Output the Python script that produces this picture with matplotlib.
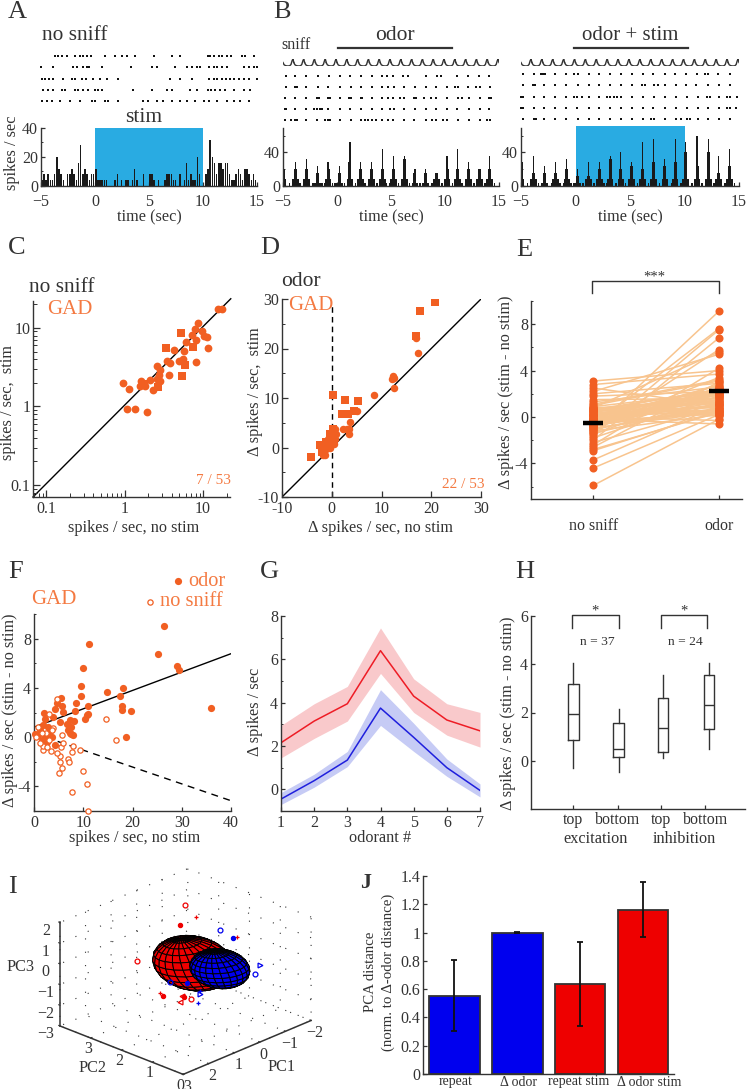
import numpy as np
import matplotlib
matplotlib.use("Agg")
import matplotlib.pyplot as plt
from mpl_toolkits.mplot3d import Axes3D  # noqa
from matplotlib.ticker import FixedLocator, NullFormatter, NullLocator

plt.rcParams['font.family'] = ['Liberation Serif', 'DejaVu Serif']
plt.rcParams['mathtext.fontset'] = 'stix'
W, H = 747, 1089
DARK = '#333333'
ORANGE = '#F15F22'
ORTXT = '#F47A42'
LIGHT = '#F8C48E'
SKY = '#29ABE2'
plt.rcParams['text.color'] = DARK
plt.rcParams['axes.edgecolor'] = DARK
plt.rcParams['xtick.color'] = DARK
plt.rcParams['ytick.color'] = DARK

# ---------- Panel A data ----------
a_bin_left = [-5 + 0.2 * i for i in range(100)]
a_counts = [4,8,4,8,4,4,8,20,12,8,4,0,8,8,12,8,4,16,28,8,12,8,4,8,8,
            12,4,4,4,4,4,0,0,0,4,8,0,4,0,4,4,0,4,12,4,0,0,8,0,0,8,8,4,0,4,0,0,4,8,8,8,4,4,0,8,0,4,16,4,8,4,4,20,8,0,
            0,8,12,32,20,16,8,16,16,12,16,16,8,4,4,8,12,8,4,12,12,8,4,8,4]
a_raster = [
 [-3.7,-3.39,-3.08,-2.62,-1.85,-1.38,-1.07,-.7,-.39,.93,1.86,2.48,2.94,3.72,5.42,7.12,7.89,10.43,10.67,10.98,11.45,11.75,12.22,12.59,13.6,13.92,14.7],
 [-5,-3.86,-2,-1.63,-1.07,-.76,-.52,.63,3.3,5.26,5.73,7.43,8.5,8.97,9.44,9.75,10.52,10.98,11.29,11.75,12.22,13.76,14.23,14.7,15],
 [-4.94,-4.63,-4.26,-3.86,-2.93,-2.16,-1.85,-1.23,-.83,-.15,.47,1.15,2.17,6.96,7.89,8.97,10.52,10.98,11.29,11.75,12.16,12.53,12.84,13.3,13.76,14.23,15],
 [-4.78,-4.32,-3.86,-3.08,-2.77,-1.85,-1.54,-1.07,-.61,0,.32,.63,3.56,5.26,6.65,7.12,8.82,9.44,10.43,10.73,11.13,11.6,12.06,12.84,13.76,14.38],
 [-4.94,-4.47,-4,-3.24,-2.31,-1.38,-.3,0,.93,1.24,2.17,4.49,4.95,5.73,6.34,7.12,7.89,8.5,9.28,10.05,10.52,11.29,12.22,12.84,13.45,14.23],
]
# ---------- Panel B data ----------
b1_peak_t = [-5,-3.83,-2.81,-1.82,-.83,.25,1.2,2.19,3.18,4.2,5.25,6.23,7.22,8.2,9.2,10.19,11.17,12.19,13.2,14.14]
b1_peak_h = [69,28,32,24,28,24,52,28,28,44,36,36,20,20,16,36,44,28,20,36]
b1_shoulder = [20,20,20,16,20,16,28,20,20,20,20,32,16,16,16,20,20,20,20,20]
b1_base = [8,8,8,4,8,4,8,8,8,8,8,8,4,4,8,8,8,8,8,8]
b2_peak_t = [-5,-3.87,-2.83,-1.82,-.79,.19,1.2,2.18,3.18,4.16,5.14,6.15,7.18,8.19,9.14,10.11,11.15,12.19,13.1,14.11]
b2_peak_h = [70,36,24,28,32,20,28,28,36,40,28,52,56,32,56,52,60,56,36,44]
b2_shoulder = [28,16,16,16,20,12,12,20,32,20,24,20,28,24,28,40,24,40,16,24]
b2_base = [8,8,4,8,8,4,8,8,8,8,8,8,8,8,8,8,8,8,8,8]
b_noise_t = [-4.4,-3.4,-2.2,-1.4,-1.1,-.4,-.2,.7,1.7,2.6,2.9,3.7,4.6,4.9,5.7,6.7,7.7,8.8,9.7,10.7,11.6,12.7,13.7,14.4,14.6]
b1_raster = [
 [-4.75,-3.85,-2.85,-1.75,-.7,.25,1.2,2.2,3.2,4.2,4.6,5.2,6.15,6.55,8.2,9.25,9.65,11.1,12.15,13.15,14.1],
 [-4.75,-3.85,-3.7,-2.85,-1.8,-.8,.25,1.25,2.2,3.2,4.2,4.7,5.25,6.2,7.2,8.25,9.2,10.2,10.9,11.2,12.1,12.9,13.25,14.15],
 [-4.8,-3.85,-2.85,-1.85,-1.7,-.8,-.65,.25,1.1,1.3,2.2,2.35,3.2,4.2,4.7,5.2,5.8,6.2,7.1,7.3,8.1,8.7,9.2,10.2,11.2,11.6,12.2,13.2,14.1,14.25],
 [-4.85,-4.7,-3.85,-2.85,-2.1,-1.85,-1.6,-1.4,-.8,.25,1.2,2.2,3.2,4.2,4.9,5.25,6.2,7.2,8.25,9.2,10.2,11.1,12.2,13.2,14.1],
 [-4.8,-4.3,-3.85,-3.7,-2.85,-1.85,-1.1,-.85,-.65,.25,1.25,2.2,2.6,2.9,3.2,3.6,4.2,4.7,5.2,6.2,7.1,8.2,8.8,9.2,9.8,10.2,11.2,12.2,13.2,13.9,14.2],
]
b2_raster = [
 [-4.8,-3.85,-3.2,-3,-2.8,-1.85,-.85,-.1,.2,1.2,2.2,3.2,4.2,5.15,6.2,7.15,8.2,9.15,10.15,11.15,11.9,12.2,13.1,14.15],
 [-4.8,-3.9,-3.7,-2.85,-1.85,-.85,.2,1.2,2.15,3.2,4.2,5.2,6.1,6.4,7.2,7.6,8.2,9.2,10.1,11.1,12.15,13.15,14.15],
 [-5,-4.8,-3.85,-2.85,-1.85,-.85,-.1,.15,.6,1.2,2.2,2.9,3.2,3.5,3.8,4.2,5.2,6.2,7.2,8.2,9.2,10.2,11.2,12.1,12.3,13.15,13.9,14.2,14.8],
 [-5,-4.8,-3.85,-2.85,-1.85,-.85,.15,1.2,2.15,3.15,4.2,5.2,6.2,7.15,8.2,9.2,10.2,11.2,12.2,13.15,13.9,14.15,14.7],
 [-4.85,-3.85,-3.6,-2.85,-1.85,-.85,.2,1.2,2.2,3.2,4.2,5.2,6.2,6.9,7.2,8.2,9.2,9.7,10.2,10.5,11.2,12.2,13.15,14.15],
]
sniff_onsets = [-5,-4,-3,-2,-1,0,1,2,3,4,5,6,7,8,9,10,11,12,13,14]
sniff_shape_t = [0,.1,.25,.45,.62,.74,.84,.92,1.0]
sniff_shape_v = [.5,.18,.04,0,.03,.22,.75,1,.5]

# ---------- Panel C ----------
c_circ_x = [.95,1.15,1.08,1.34,1.91,1.62,1.58,1.84,2.08,2.30,2.61,2.58,2.72,2.85,2.85,3.65,3.47,3.83,4.26,4.99,5.5,5.78,6.13,7.24,7.98,8.63,9.8,11.1,11.5,8.22,8.22,15.4,17.5,10.4]
c_circ_y = [1.97,1.65,.92,.92,.85,2.08,1.82,1.80,2.17,1.62,3.27,2.26,2.54,2.94,2.13,2.54,3.83,3.57,5.29,3.75,4.02,5.14,6.63,8.22,9.8,11.5,9.07,7.6,5.5,3.68,7.1,17.6,17.6,7.8]
c_sq_x = [5.19,3.34,5.33,5.95,7.47,2.66,1.75]
c_sq_y = [8.7,5.56,2.41,3.4,5.78,1.77,1.95]
# ---------- Panel D ----------
d_sq_x = [20.7,17.8,16.9,.3,2.7,5.2,2,3.2,4.5,-4.1,-2.3,-1.1,.3,-.3,.3,-2,-.7]
d_sq_y = [29.3,27.5,22.5,10.6,9.5,9.4,6.7,6.7,7.3,-2,.6,1.1,3.8,2.8,1.8,-.9,.5]
d_circ_x = [17.3,16.9,12.5,12.3,12.6,12.1,8.4,5,3.7,3.4,3.5,2.3,.7,.9,.7,.5,-.3,-1.3,-1.7,-2.2,-1.1,-.7,0,.3,-.5,-1.8,3]
d_circ_y = [19.1,22.2,12,14.5,14,13.8,10.7,7.4,5.1,2.8,3.8,3.7,3.8,2.8,1.8,.8,-.2,-1.6,-.9,-.2,-.3,1.8,2.5,1.1,.1,-1.6,3.7]
# ---------- Panel E ----------
e_nosniff = [3.1,2.8,2.5,2.2,2.0,1.8,1.5,1.3,1.0,.8,.7,.6,.5,.4,.3,.2,.1,0,-.1,-.2,-.3,-.4,-.5,-.6,-.7,-.8,-.9,-1,-1.1,-1.2,-1.3,-1.5,-1.6,-1.8,-2,-2.2,-2.4,-2.6,-2.8,-3.7,-4.4,-5.9,
             .9,.6,.2,-.2,-.6,-1,-1.4,-.8,-.3,-2.9,1.1,.85,.75,.65,.55,.45,.35,.25,.15,.05,-.05,-.15,-.25,-.35,-.45,-.55,-.65,-.75,-.85,-.95]
e_odor = [4,3.7,1,5.4,2.9,2.2,1.6,2.6,3.1,5.6,1.3,.1,2.4,1.9,.6,1,2.1,-.3,2.7,-.6,1.5,.3,2,.5,7.6,2.3,3.4,9.1,1.2,.2,5.8,2.5,7.5,1.8,6.8,.8,4.2,3,.4,1,.2,-.2,
          2.1,1.4,.9,1.7,2.8,.7,1.1,2.2,1.9,.5,3.2,.4,1.6,2.3,.8,2.0,1.2,.3,2.4,1.5,.6,1.9,1,2.2,.35,1.3,2.5,.75,1.75,.45]
e_means = [-.5, 2.2]
e_cats = ['no sniff', 'odor']
# ---------- Panel F ----------
f_odor_x = [26.4,25.1,11.1,9.9,29.1,29.5,9.5,9.5,18,14.8,17.5,17.8,17.8,19.7,35.9,18.7,5.4,10.9,11,10.3,10.7,8.6,8.3,2.1,2.2,4.3,4.7,5.6,5.9,3.9,5.3,6.6,8.1,7.3,7.6,7,7.6,8,7.3,1.9,2.9,1.2,3.2,2.2,3.6,.9,2.6,4.3,2.9,1.6,.2]
f_odor_y = [9.1,6.8,7.6,5.6,5.8,5.5,4.2,3.35,4,3.7,3.35,2.5,2.2,2.1,2.4,0,3.2,2.55,1.9,1.5,1.8,2.8,2.15,2,1.45,2.3,2.75,2.55,2.05,1.65,1.25,1.1,1.3,1.4,.85,.55,.25,.15,.3,1,.85,.55,.45,.15,0,.15,-.4,-.65,-.1,-.25,.25]
f_ns_x = [14.7,16.6,10.9,7.8,10.7,9.9,5.1,5.6,7,7.2,5.3,5.3,4.6,7.7,9.4,8,5.5,5.9,5.7,1.8,3.4,1.9,1.2,.5,.9,4.7,3.1,3.9,3.1,2.4,1.6,3.6,2.6]
f_ns_y = [1.45,-.27,-6,-4.5,-3.8,-2.8,-2.9,-2.5,-1.8,-2,-2,-1.55,-1.3,-1.25,-1.1,-.7,-.8,-.5,.2,-1.1,-1.15,-.75,-.45,0,.85,3.1,1.9,.75,-.25,.3,.3,.55,-.8]
f_fit_x = [0, 40]
f_fit_odor = [.8, 6.8]
f_fit_ns = [.3, -5.2]
# ---------- Panel G ----------
g_x = [1,2,3,4,5,6,7]
g_red = [2.15,3.15,3.95,6.4,4.3,3.2,2.7]
g_red_hi = [2.95,3.95,4.75,7.45,5.1,3.95,3.55]
g_red_lo = [1.45,2.35,3.15,5.35,3.55,2.5,1.95]
g_blue = [-.45,.4,1.35,3.75,2.4,1.0,-.05]
g_blue_hi = [-.15,.7,1.75,4.6,3.05,1.4,.25]
g_blue_lo = [-.7,.1,1.05,2.95,1.75,.6,-.35]
# ---------- Panel H ----------
h_labels = ['top','bottom','top','bottom']
h_whislo = [-.3,-.45,.1,.5]
h_q1 = [.85,.15,.35,1.3]
h_med = [1.95,.5,1.35,2.3]
h_q3 = [3.2,1.55,2.6,3.55]
h_whishi = [4.05,2.15,3.55,4.05]
# ---------- Panel I ----------
i_red_open = ([-.67,1.81,1.48],[3,2.5,1],[1.5,.38,-.72])
i_red_fill = ([-.48,2,1.75],[3,1.5,1],[.66,-.63,-.49])
i_red_tri = ([1.83,1.94],[1,1],[-.4,-.64])
i_red_x = ([2.11,-1.5,-1.13],[1.5,2,3],[-.43,.14,.69])
i_blue_open = ([-1.45,-1.02,1.11],[2.5,1,2],[.2,-.82,-.69])
i_blue_fill = ([-1.36,1.05],[2,1.5],[.16,-.46])
i_blue_tri = ([-1.2,1.14],[1,1],[-.51,-.69])
i_blue_x = ([1.22,1.14],[1,1],[-1.05,-.54])
i_red_center = (.06, 2.12, -.4)
i_red_radii = (1.0, .8, 1.2)
i_red_tilt = 15
i_blue_center = (-.48, 1.7, -.7)
i_blue_radii = (.75, .6, .85)
i_blue_tilt = 10
# ---------- Panel J ----------
j_labels = ['repeat','Δ odor','repeat stim','Δ odor stim']
j_vals = [.555,1.0,.635,1.16]
j_lo = [.305,1.0,.34,.97]
j_hi = [.805,1.005,.93,1.355]
j_cols = ['#0000EE','#0000EE','#EE0000','#EE0000']

LAB = 11.7
TICK = 11.5
fig = plt.figure(figsize=(W/100, H/100), dpi=100)

def pax(l, t, r, b, **kw):
    return fig.add_axes([l/W, 1-b/H, (r-l)/W, (b-t)/H], **kw)

def T(x, y, s, size=10, ha='center', va='center', **kw):
    return fig.text(x/W, 1-y/H, s, fontsize=size, ha=ha, va=va, **kw)

def style(ax, size=TICK, length=3):
    for s in ('top', 'right'):
        ax.spines[s].set_visible(False)
    for s in ('left', 'bottom'):
        ax.spines[s].set_linewidth(1.0)
    ax.tick_params(which='major', direction='in', length=length, width=.9, labelsize=size, pad=2)
    ax.tick_params(which='minor', direction='in', length=length*.6, width=.7)
    ax.patch.set_alpha(0)

# Panel letters
for (x, y, s) in [(8,12,'A'),(273,12,'B'),(8,248,'C'),(260,248,'D'),(516,250,'E'),(8,572,'F'),(260,572,'G'),(515,572,'H'),(8,887,'I')]:
    T(x, y, s, 19, ha='left')
T(360, 883, 'J', 16, ha='left', fontweight='bold')

def raster(l, r, t, b, rows):
    ax = pax(l, t, r, b)
    for i, row in enumerate(rows):
        ax.plot(row, [i]*len(row), ls='none', marker='s', ms=1.5, color='#111111', mew=0, clip_on=False)
    ax.set_xlim(-5, 15); ax.set_ylim(len(rows)-1, 0)
    ax.axis('off')

def sniff(l, r, t, b):
    ax = pax(l, t, r, b)
    for on in sniff_onsets:
        ax.plot([on+s for s in sniff_shape_t], sniff_shape_v, color=DARK, lw=1)
    ax.set_xlim(-5, 15); ax.set_ylim(0, 1); ax.axis('off')

XT = [-5,0,5,10,15]
XTL = ['−5','0','5','10','15']
# ---- A
raster(41, 257, 56, 101, a_raster)
ax = pax(41, 128, 257, 186)
ax.fill_between([0,10],[0,0],[40.5,40.5], color=SKY, lw=0, zorder=1)
ax.bar(a_bin_left, a_counts, width=.14, align='edge', color='#1a1a1a', lw=0, zorder=2)
ax.set_xlim(-5,15); ax.set_ylim(0,40)
ax.set_xticks(XT); ax.set_xticklabels(XTL)
ax.set_yticks([0,20,40]); ax.yaxis.set_minor_locator(FixedLocator([10,30]))
style(ax)
ax.tick_params(axis='x', pad=6)
T(149, 217, 'time (sec)', LAB)
T(12, 153, 'spikes / sec', LAB, rotation=90)
T(144, 118, 'stim', 15.5)
T(42, 35, 'no sniff', 15.4, ha='left')

# ---- B
def bpanel(l, r, peak_t, peak_h, shoulder, base):
    ax = pax(l, 128, r, 186)
    ax.bar(b_noise_t, [4]*len(b_noise_t), width=.15, color='#1a1a1a', lw=0, zorder=2)
    ax.bar(peak_t, base, width=.6, color='#1a1a1a', lw=0, zorder=2)
    ax.bar(peak_t, shoulder, width=.28, color='#1a1a1a', lw=0, zorder=2)
    ax.bar(peak_t, peak_h, width=.11, color='#1a1a1a', lw=0, zorder=2)
    ax.set_xlim(-5,15); ax.set_ylim(0,69)
    ax.set_xticks(XT); ax.set_xticklabels(XTL)
    ax.set_yticks([0,40]); ax.yaxis.set_minor_locator(FixedLocator([20,60]))
    style(ax)
    ax.tick_params(axis='x', pad=6)
    return ax
raster(283, 499, 76, 120, b1_raster)
sniff(283, 499, 59, 66)
bpanel(283, 499, b1_peak_t, b1_peak_h, b1_shoulder, b1_base)
T(391, 217, 'time (sec)', LAB)
T(281, 45, 'sniff', 11.5, ha='left')
T(395, 35, 'odor', 15.5)
fig.add_artist(plt.Line2D([338/W,452/W],[1-48/H,1-48/H], color=DARK, lw=1.6))

raster(521, 739, 74, 119, b2_raster)
sniff(521, 739, 59, 66)
ax = pax(521, 126, 739, 186)
ax.axis('off')
ax.fill_between([0,10],[0,0],[1,1], color=SKY, lw=0); ax.set_xlim(-5,15); ax.set_ylim(0,1)
bpanel(521, 739, b2_peak_t, b2_peak_h, b2_shoulder, b2_base)
T(630, 217, 'time (sec)', LAB)
T(630, 35, 'odor + stim', 15)
fig.add_artist(plt.Line2D([574/W,688/W],[1-48/H,1-48/H], color=DARK, lw=1.6))

# ---- C
ax = pax(33, 301, 230, 497)
ax.set_xscale('log'); ax.set_yscale('log')
ax.plot([.068,22.5],[.0703,23.5], color='k', lw=1, zorder=1, clip_on=False)
ax.plot(c_circ_x, c_circ_y, 'o', ms=5.6, color=ORANGE, mew=0, zorder=3)
ax.plot(c_sq_x, c_sq_y, 's', ms=5.4, color=ORANGE, mew=0, zorder=3)
ax.set_xlim(.068,22); ax.set_ylim(.0703,22)
style(ax, TICK, 5)
ax.set_xticks([.1,1,10]); ax.set_xticklabels(['0.1','1','10'])
ax.set_yticks([.1,1,10]); ax.set_yticklabels(['0.1','1','10'])
ax.xaxis.set_minor_formatter(NullFormatter()); ax.yaxis.set_minor_formatter(NullFormatter())
ax.tick_params(axis='x', pad=3)
T(134, 528, 'spikes / sec, no stim', LAB)
T(8, 403, 'spikes / sec,  stim', LAB, rotation=90)
T(29, 287, 'no sniff', 15.4, ha='left')
T(47, 310, 'GAD', 15, ha='left', color=ORTXT)
T(231, 480, '7 / 53', 11, ha='right', color=ORTXT)

# ---- D
ax = pax(282, 299, 481, 497)
ax.plot([-10,30],[-10,30], color='k', lw=1, zorder=1)
ax.plot([0,0],[-10,29], color='k', lw=1, ls=(0,(4,3)), zorder=1)
ax.plot(d_circ_x, d_circ_y, 'o', ms=5.4, color=ORANGE, mew=0, zorder=3)
ax.plot(d_sq_x, d_sq_y, 's', ms=5.6, color=ORANGE, mew=0, zorder=3)
ax.set_xlim(-10,30); ax.set_ylim(-10,30)
ax.set_xticks([-10,0,10,20,30]); ax.set_xticklabels(['-10','0','10','20','30'])
ax.set_yticks([-10,0,10,20,30]); ax.set_yticklabels(['-10','0','10','20','30'])
ax.yaxis.set_minor_locator(FixedLocator([-5,5,15,25]))
style(ax, TICK, 4)
ax.tick_params(axis='x', pad=3)
T(380, 528, 'Δ spikes / sec, no stim', LAB)
T(255, 392, 'Δ spikes / sec,  stim', LAB, rotation=90)
T(281, 282, 'odor', 15.5, ha='left')
T(288, 305, 'GAD', 15, ha='left', color=ORTXT)
T(485, 485, '22 / 53', 11, ha='right', color=ORTXT)

# ---- E
ax = pax(531, 301, 742, 499)
for a, b in zip(e_nosniff, e_odor):
    ax.plot([0,1],[a,b], color=LIGHT, lw=1.1, zorder=2)
ax.plot([0]*len(e_nosniff), e_nosniff, 'o', ms=5.8, color=ORANGE, mew=0, zorder=3)
ax.plot([1]*len(e_odor), e_odor, 'o', ms=5.8, color=ORANGE, mew=0, zorder=3)
ax.plot([0,1], e_means, ls='none', marker='_', ms=14, mew=3.2, color='k', zorder=4)
ax.set_xlim(-.497,1.186); ax.set_ylim(-7.07,10)
ax.set_xticks([0,1]); ax.set_xticklabels(e_cats)
ax.set_yticks([-4,0,4,8]); ax.set_yticklabels(['-4','0','4','8'])
ax.yaxis.set_minor_locator(FixedLocator([-6,-2,2,6,10]))
style(ax, TICK, 3)
ax.tick_params(axis='x', pad=14)
T(506, 392, 'Δ spikes / sec (stim - no stim)', LAB, rotation=90)
ln = [(592,293),(592,281),(719,281),(719,293)]
fig.add_artist(plt.Line2D([p[0]/W for p in ln],[1-p[1]/H for p in ln], color=DARK, lw=1))
T(654, 277, '***', 10.5)

# ---- F
ax = pax(34, 614, 231, 811)
ax.plot(f_fit_x, f_fit_odor, color='k', lw=1, zorder=2)
ax.plot(f_fit_x, f_fit_ns, color='k', lw=1, ls=(0,(5,4)), zorder=2)
ax.plot(f_odor_x, f_odor_y, 'o', ms=5.2, color=ORANGE, mew=0, zorder=3, clip_on=False)
ax.plot(f_ns_x, f_ns_y, 'o', ms=3.8, mfc='white', mec=ORANGE, mew=.9, zorder=4, clip_on=False)
ax.set_xlim(0,40); ax.set_ylim(-6.04,10.04)
ax.set_xticks([0,10,20,30,40])
ax.set_yticks([-4,0,4,8]); ax.set_yticklabels(['-4','0','4','8'])
ax.yaxis.set_minor_locator(FixedLocator([-6,-2,2,6,10]))
style(ax, TICK, 3)
ax.tick_params(axis='x', pad=3)
T(135, 838, 'spikes / sec, no stim', LAB)
T(10, 710, 'Δ spikes / sec (stim - no stim)', LAB, rotation=90)
T(31, 600, 'GAD', 15, ha='left', color=ORTXT)
T(188, 581, 'odor', 14.7, ha='left', color=ORTXT)
T(160, 602, 'no sniff', 14.7, ha='left', color=ORTXT)
leg = pax(140, 572, 190, 612); leg.axis('off'); leg.set_xlim(140,190); leg.set_ylim(612,572)
leg.plot([178],[581],'o',ms=5.2,color=ORANGE,mew=0)
leg.plot([150],[602],'o',ms=3.8,mfc='white',mec=ORANGE,mew=.9)

# ---- G
ax = pax(281, 616, 480, 811)
ax.fill_between(g_x, g_red_lo, g_red_hi, color='#F9C9CB', lw=0)
ax.fill_between(g_x, g_blue_lo, g_blue_hi, color='#C6CBF5', lw=0)
ax.plot(g_x, g_red, color='#EE1C25', lw=1.1)
ax.plot(g_x, g_blue, color='#1F1FDD', lw=1.1)
ax.set_xlim(1,7); ax.set_ylim(-1,8)
ax.set_xticks(g_x); ax.set_yticks([0,2,4,6,8])
ax.yaxis.set_minor_locator(FixedLocator([-1,1,3,5,7]))
style(ax, TICK, 3)
ax.tick_params(axis='x', pad=3)
T(380, 838, 'odorant #', LAB)
T(255, 712, 'Δ spikes / sec', LAB, rotation=90)

# ---- H
ax = pax(531, 616, 745, 809)
pos = [1,2.02,3.02,4.06]
stats = [dict(whislo=a,q1=b,med=c,q3=d,whishi=e,fliers=[]) for a,b,c,d,e in zip(h_whislo,h_q1,h_med,h_q3,h_whishi)]
ax.bxp(stats, positions=pos, widths=.23, showcaps=False, showfliers=False, manage_ticks=False,
       boxprops=dict(color=DARK,lw=1), medianprops=dict(color=DARK,lw=1), whiskerprops=dict(color=DARK,lw=1))
ax.set_xlim(.04,4.88); ax.set_ylim(-2,6)
ax.set_xticks([1,2,2.98,3.98]); ax.set_xticklabels(h_labels)
ax.set_yticks([0,2,4,6]); ax.xaxis.set_minor_locator(NullLocator())
style(ax, TICK, 3)
ax.tick_params(axis='x', pad=2)
T(508, 713, 'Δ spikes / sec (stim - no stim)', LAB, rotation=90)
T(596, 839, 'excitation', LAB)
T(684, 839, 'inhibition', LAB)
T(597, 642, 'n = 37', 9.7)
T(685, 642, 'n = 24', 9.7)
T(595, 611, '*', 10.5)
T(684, 611, '*', 10.5)
for x0, x1 in [(572,619),(661,707)]:
    ln = [(x0,628),(x0,615),(x1,615),(x1,628)]
    fig.add_artist(plt.Line2D([p[0]/W for p in ln],[1-p[1]/H for p in ln], color=DARK, lw=1))

# ---- I
ax = fig.add_axes([2/W, 1-1105/H, 360/W, 260/H], projection='3d', proj_type='ortho', computed_zorder=False)
ax.view_init(elev=24, azim=-46)
ax.set_box_aspect((174,187,115), zoom=1.03)
ax.set_xlim(4,0); ax.set_ylim(3.001,-2.001); ax.set_zlim(-3.001,2.001)
ax.patch.set_alpha(0)
for a in (ax.xaxis, ax.yaxis, ax.zaxis):
    a.pane.set_visible(False)
    a.line.set_color(DARK); a.line.set_linewidth(1.1)
    a._axinfo['grid'].update(color='#333333', linewidth=.8, linestyle=(0,(1,11)))
    a._axinfo['tick'].update(inward_factor=.0, outward_factor=.12)
ax.set_xticks([0,1,2,3]); ax.set_yticks([3,2,1,0,-1,-2]); ax.set_zticks([-3,-2,-1,0,1,2])
ax.set_xticklabels(['0','1','2','3']); ax.set_yticklabels(['3','2','1','0','−1','−2'])
ax.set_zticklabels(['−3','−2','−1','0','1','2'])
ax.tick_params(axis='x', labelsize=TICK, pad=-6)
ax.tick_params(axis='y', labelsize=TICK, pad=-5)
ax.tick_params(axis='z', labelsize=TICK, pad=-2.5)
ax.zaxis.set_ticks_position('upper')

def ellipsoid(c, r, tilt, col, z):
    u = np.linspace(0, 2*np.pi, 25); v = np.linspace(0, np.pi, 13)
    a_ = r[0]*np.outer(np.cos(u), np.sin(v))
    b_ = r[1]*np.outer(np.sin(u), np.sin(v))
    c_ = r[2]*np.outer(np.ones_like(u), np.cos(v))
    th = np.radians(tilt)
    a2 = a_*np.cos(th) - c_*np.sin(th)
    c2 = a_*np.sin(th) + c_*np.cos(th)
    s = np.sqrt(.5)
    pc1 = c[0] + (-a2 - b_)*s
    pc2 = c[1] + (-a2 + b_)*s
    pc3 = c[2] + c2
    ax.plot_surface(pc2, pc1, pc3, rstride=1, cstride=1, color=col, edgecolor='k', linewidth=.7, shade=False, zorder=z)
ellipsoid(i_red_center, i_red_radii, i_red_tilt, '#EE0000', 2)
ellipsoid(i_blue_center, i_blue_radii, i_blue_tilt, '#0000EE', 3)
def pts(d, col, m, filled=False, ms=3.5):
    ax.plot(d[1], d[0], d[2], ls='none', marker=m, ms=ms, mfc=col if filled else 'none', mec=col, mew=.9, zorder=5)
pts(i_red_open,'#EE0000','o'); pts(i_red_fill,'#EE0000','o',True,3)
pts(i_red_tri,'#EE0000','<'); pts(i_red_x,'#EE0000','+',ms=3)
pts(i_blue_open,'#0000EE','o'); pts(i_blue_fill,'#0000EE','o',True,3)
pts(i_blue_tri,'#0000EE','>'); pts(i_blue_x,'#0000EE','+',ms=3)
T(21, 967, 'PC3', LAB)
T(92, 1068, 'PC2', LAB)
T(282, 1067, 'PC1', LAB)

# ---- J
ax = pax(423, 876, 674, 1074)
ax.bar([1,2,3,4], j_vals, width=.8, color=j_cols, edgecolor='#333333', lw=1.3, zorder=2)
ax.errorbar([1,2,3,4], j_vals, yerr=[np.array(j_vals)-np.array(j_lo), np.array(j_hi)-np.array(j_vals)],
            fmt='none', ecolor='#111111', elinewidth=1.3, capsize=2.2, capthick=1.3, zorder=3)
ax.set_xlim(.5,4.49); ax.set_ylim(0,1.4)
ax.set_xticks([]); ax.set_yticks([0,.2,.4,.6,.8,1,1.2,1.4])
ax.set_yticklabels(['0','0.2','0.4','0.6','0.8','1','1.2','1.4'])
style(ax, TICK, 3)
for x, s in zip([456,518,579,649], j_labels):
    T(x, 1082, s, 10)
T(371, 972, 'PCA distance', 10.7, rotation=90)
T(388, 972, '(norm. to Δ-odor distance)', 10.7, rotation=90)

fig.savefig('out.png', dpi=100)
